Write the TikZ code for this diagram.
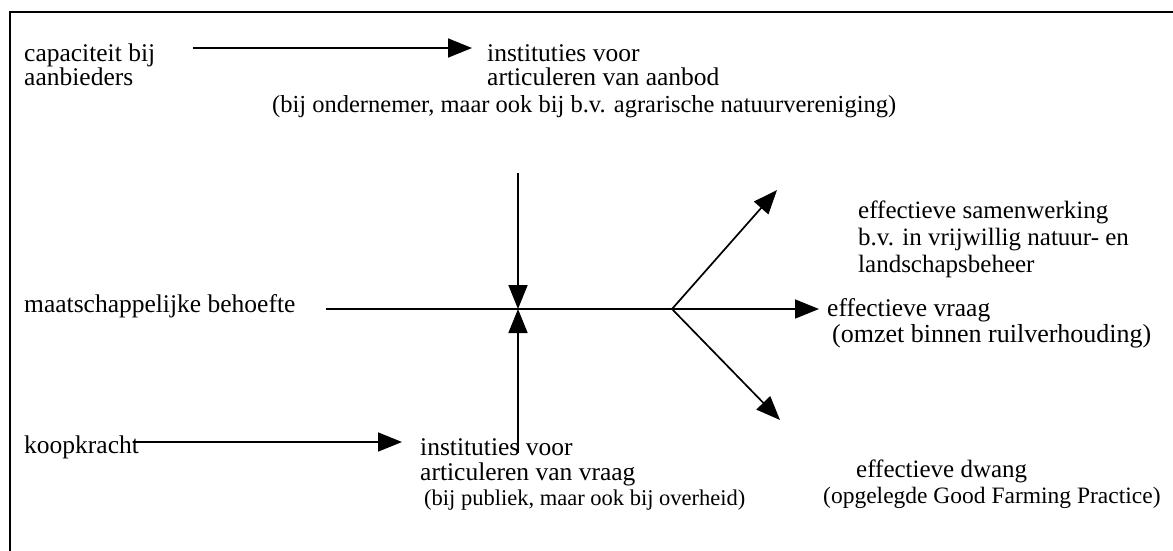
\documentclass[tikz,border=0pt]{standalone}
\usepackage{fontspec}
\setmainfont{Liberation Serif}
\usetikzlibrary{arrows.meta}
\begin{document}
\begin{tikzpicture}[x=1pt,y=-1pt,
  txt/.style={anchor=base west,inner sep=0pt,font=\fontsize{25.5}{29}\selectfont},
  sm/.style={anchor=base west,inner sep=0pt,font=\fontsize{23.5}{26}\selectfont},
  arr/.style={line width=1.7pt,-{Triangle[length=24pt,width=19pt]}},
  ln/.style={line width=1.7pt},
  frame/.style={line width=2pt}]
\useasboundingbox (0,0) rectangle (1173,550);
\draw[frame] (1175,12) -- (10,12) -- (10,552);
% top row
\node[txt] (cap1) at (24,61) {capaciteit bij};
\node[txt] (cap2) at (24,85) {aanbieders};
\node[txt] (ia1) at (487,61) {instituties voor};
\node[txt] (ia2) at (487,85) {articuleren van aanbod};
\node[sm,font=\fontsize{24.5}{26}\selectfont] (ia3) at (272,112) {(bij ondernemer, maar ook bij b.v. agrarische natuurvereniging)};
% middle row
\node[txt] (maat) at (24,312) {maatschappelijke behoefte};
% bottom row
\node[txt] (koop) at (24,453) {koopkracht};
\node[txt] (iv1) at (420,455) {instituties voor};
\node[txt] (iv2) at (420,480) {articuleren van vraag};
\node[sm,font=\fontsize{22.5}{26}\selectfont] (iv3) at (424,505) {(bij publiek, maar ook bij overheid)};
% right outcomes
\node[txt,font=\fontsize{25}{29}\selectfont] (sa1) at (858,218) {effectieve samenwerking};
\node[txt,font=\fontsize{25}{29}\selectfont] (sa2) at (858,245) {b.v. in vrijwillig natuur- en};
\node[txt,font=\fontsize{25}{29}\selectfont] (sa3) at (858,272) {landschapsbeheer};
\node[txt] (vr1) at (827,316) {effectieve vraag};
\node[sm,font=\fontsize{26}{28}\selectfont] (vr2) at (832,342) {(omzet binnen ruilverhouding)};
\node[txt,font=\fontsize{25}{29}\selectfont] (dw1) at (856,477) {effectieve dwang};
\node[sm] (dw2) at (823,503) {(opgelegde Good Farming Practice)};
% coordinates
\coordinate (ta) at (193,48);
\coordinate (tb) at (472,48);
\coordinate (ms) at (326,309);
\coordinate (hub) at (672,309);
\coordinate (cross) at (518,309);
\coordinate (dtop) at (518,173);
\coordinate (ubot) at (518,453);
\coordinate (ka) at (133,442);
\coordinate (kb) at (402,442);
\coordinate (eu) at (777,190);
\coordinate (er) at (819,309);
\coordinate (ed) at (780,420);
% connectors
\draw[arr] (ta) -- (tb);
\draw[arr] (ka) -- (kb);
\draw[ln] (ms) -- (hub);
\draw[arr] (dtop) -- (cross);
\draw[arr] (ubot) -- (cross);
\draw[arr] (hub) -- (eu);
\draw[arr] (hub) -- (er);
\draw[arr] (hub) -- (ed);
\end{tikzpicture}
\end{document}
